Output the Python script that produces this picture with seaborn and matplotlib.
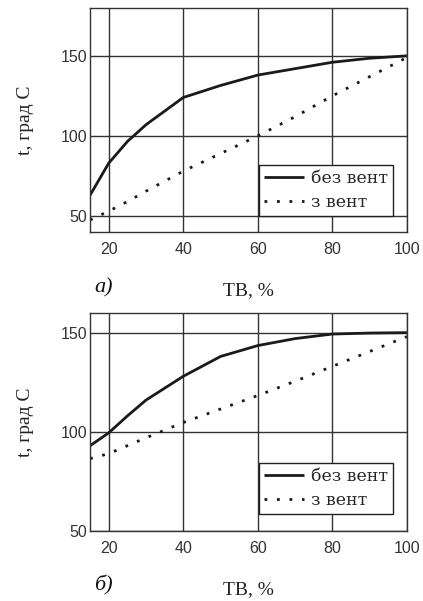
import seaborn as sns
import matplotlib.pyplot as plt
import pandas as pd

# a) data
tv_a = [15, 20, 25, 30, 40, 50, 60, 70, 80, 90, 100]
bez_a = [63, 83, 96.5, 107, 124, 131.5, 138, 142, 146, 148.5, 150]
z_a = [47.5, 53, 59, 65.5, 78, 89, 100, 112, 125, 137, 149]

# б) data
tv_b = [15, 20, 25, 30, 40, 50, 60, 70, 80, 90, 100]
bez_b = [93, 99.5, 108, 116, 128, 138, 143.5, 147, 149.3, 149.8, 150]
z_b = [86.5, 89, 93, 97, 104.7, 111.5, 118.3, 125.5, 133, 140.5, 148]

series_names = ["без вент", "з вент"]
x_ticks = [20, 40, 60, 80, 100]
y_ticks = [50, 100, 150]

sns.set_style("white")
plt.rcParams["font.family"] = ["Liberation Serif", "DejaVu Serif"]

fig = plt.figure(figsize=(4.23, 6.01), dpi=100)
ax1 = fig.add_axes([0.213, 0.614, 0.749, 0.373])
ax2 = fig.add_axes([0.213, 0.1165, 0.749, 0.363])

panels = [
    (ax1, tv_a, bez_a, z_a, (40, 180), "а)", 0.299),
    (ax2, tv_b, bez_b, z_b, (50, 160), "б)", 0.312),
]

for ax, tv, bez, z, ylim, tag, leg_y in panels:
    df = pd.DataFrame({"TB": tv + tv,
                       "t": bez + z,
                       "s": [series_names[0]] * len(tv) + [series_names[1]] * len(tv)})
    sns.lineplot(data=df, x="TB", y="t", hue="s", style="s",
                 palette=["#1a1a1a", "#1a1a1a"],
                 dashes=[(1, 0), (1, 3.5)], linewidth=2.0, ax=ax)
    ax.set_xlim(15, 100)
    ax.set_ylim(*ylim)
    ax.set_xticks(x_ticks)
    ax.set_yticks(y_ticks)
    ax.grid(True, color="#333333", linewidth=1.0)
    for sp in ax.spines.values():
        sp.set_color("#333333")
        sp.set_linewidth(1.0)
    ax.tick_params(length=0, labelsize=11.5, colors="#333333")
    ax.tick_params(axis="x", pad=7)
    ax.tick_params(axis="y", pad=2)
    for lbl in ax.get_xticklabels() + ax.get_yticklabels():
        lbl.set_family("Liberation Sans")
    ax.set_xlabel("TB, %", fontsize=14, labelpad=18, color="#222222")
    ax.set_ylabel("t, град С", fontsize=14, labelpad=19, color="#222222")
    ax.text(0.012, -0.25, tag, transform=ax.transAxes, fontsize=16,
            style="italic", ha="left", va="center", color="#111111")
    leg = ax.legend(loc="upper right", bbox_to_anchor=(0.956, leg_y),
                    prop={"family": "DejaVu Serif", "size": 12.5},
                    frameon=True, fancybox=False,
                    handlelength=2.3, borderpad=0.3, labelspacing=0.4,
                    handletextpad=0.4, borderaxespad=0)
    leg.get_frame().set_edgecolor("#222222")
    leg.get_frame().set_linewidth(1.0)
    leg.get_frame().set_alpha(1)
    leg.set_title(None)

fig.savefig("out.png", dpi=100)
